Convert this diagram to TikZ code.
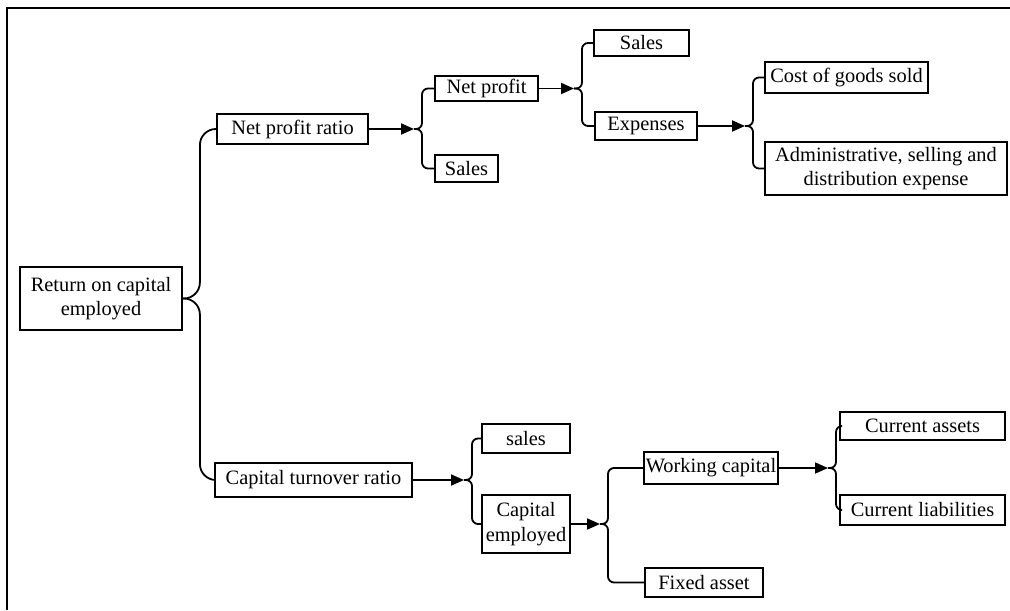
\documentclass[tikz,border=0pt]{standalone}
\usepackage{fontspec}
\setmainfont{Liberation Serif}
\usetikzlibrary{arrows.meta}
\begin{document}
\begin{tikzpicture}[x=0.5pt,y=-0.5pt,
  box/.style={draw, line width=0.9pt, inner sep=0pt, align=center,
    font=\fontsize{10.2}{12.2}\selectfont},
  conn/.style={line width=0.9pt},
  arr/.style={line width=0.9pt, -{Triangle[length=6.5pt,width=5.5pt]}}]
\useasboundingbox (0,0) rectangle (1010,610);
% frame
\coordinate (fl) at (7,610);
\coordinate (ft) at (7,8);
\coordinate (fr) at (1010,8);
\draw[line width=1.2pt] (fl) -- (ft) -- (fr);
% nodes
\node[box, minimum width=81pt, minimum height=31.5pt] (roce) at (101,298.5) {Return on capital\\employed};
\node[box, minimum width=75.5pt, minimum height=15pt] (npr) at (292.5,129) {Net profit ratio};
\node[box, minimum width=98.5pt, minimum height=17pt] (ctr) at (313.5,480) {Capital turnover ratio};
\node[box, minimum width=51.5pt, minimum height=12.5pt] (np) at (486.5,88.5) {Net profit};
\node[box, minimum width=31.5pt, minimum height=13.5pt] (salesa) at (466.5,168.5) {Sales};
\node[box, minimum width=47.5pt, minimum height=13pt] (salesb) at (641.5,43) {Sales};
\node[box, minimum width=51pt, minimum height=14pt] (exp) at (646,126) {Expenses};
\node[box, minimum width=81.5pt, minimum height=15.5pt] (cogs) at (846.5,77.5) {Cost of goods sold};
\node[box, minimum width=121pt, minimum height=26.5pt] (adm) at (886,168.5) {Administrative, selling and\\distribution expense};
\node[box, minimum width=44pt, minimum height=14.5pt] (salesc) at (526,438.5) {sales};
\node[box, minimum width=44pt, minimum height=29pt] (ce) at (526,524) {Capital\\employed};
\node[box, minimum width=67pt, minimum height=16pt] (wc) at (711,468) {Working capital};
\node[box, minimum width=59pt, minimum height=14.5pt] (fa) at (704,582.5) {Fixed asset};
\node[box, minimum width=82.5pt, minimum height=14pt] (ca) at (922.5,426) {Current assets};
\node[box, minimum width=82.5pt, minimum height=15pt] (cl) at (922.5,510) {Current liabilities};
% fork points
\coordinate (f1) at (414,129);
\coordinate (f2) at (574,88.5);
\coordinate (f3) at (745,126);
\coordinate (f4) at (464,480);
\coordinate (f5) at (600,524);
\coordinate (f6) at (828,468);
% root fork
\draw[conn, rounded corners=8pt] (roce.east) -| ([xshift=8.5pt]roce.east |- npr.west) -- (npr.west);
\draw[conn, rounded corners=8pt] (roce.east) -| ([xshift=8.5pt]roce.east |- ctr.west) -- (ctr.west);
% arrows
\draw[arr] (npr.east) -- (f1);
\draw[arr] (np.east) -- (f2);
\draw[arr] (exp.east) -- (f3);
\draw[arr] (ctr.east) -- (f4);
\draw[arr] (ce.east) -- (f5);
\draw[arr] (wc.east) -- (f6);
% braces
\draw[conn, rounded corners=3pt] (f1) -| ([xshift=4pt]f1 |- np.west) -- (np.west);
\draw[conn, rounded corners=3pt] (f1) -| ([xshift=4pt]f1 |- salesa.west) -- (salesa.west);
\draw[conn, rounded corners=3pt] (f2) -| ([xshift=4pt]f2 |- salesb.west) -- (salesb.west);
\draw[conn, rounded corners=3pt] (f2) -| ([xshift=4pt]f2 |- exp.west) -- (exp.west);
\draw[conn, rounded corners=3pt] (f3) -| ([xshift=4pt]f3 |- cogs.west) -- (cogs.west);
\draw[conn, rounded corners=3pt] (f3) -| ([xshift=4pt]f3 |- adm.west) -- (adm.west);
\draw[conn, rounded corners=3pt] (f4) -| ([xshift=4pt]f4 |- salesc.west) -- (salesc.west);
\draw[conn, rounded corners=3pt] (f4) -| ([xshift=4pt]f4 |- ce.west) -- (ce.west);
\draw[conn, rounded corners=3pt] (f5) -| ([xshift=4pt]f5 |- wc.west) -- (wc.west);
\draw[conn, rounded corners=3pt] (f5) -| ([xshift=4pt]f5 |- fa.west) -- (fa.west);
\draw[conn, rounded corners=3pt] (f6) -| ([xshift=4pt]f6 |- ca.west) -- (ca.west);
\draw[conn, rounded corners=3pt] (f6) -| ([xshift=4pt]f6 |- cl.west) -- (cl.west);
\end{tikzpicture}
\end{document}
